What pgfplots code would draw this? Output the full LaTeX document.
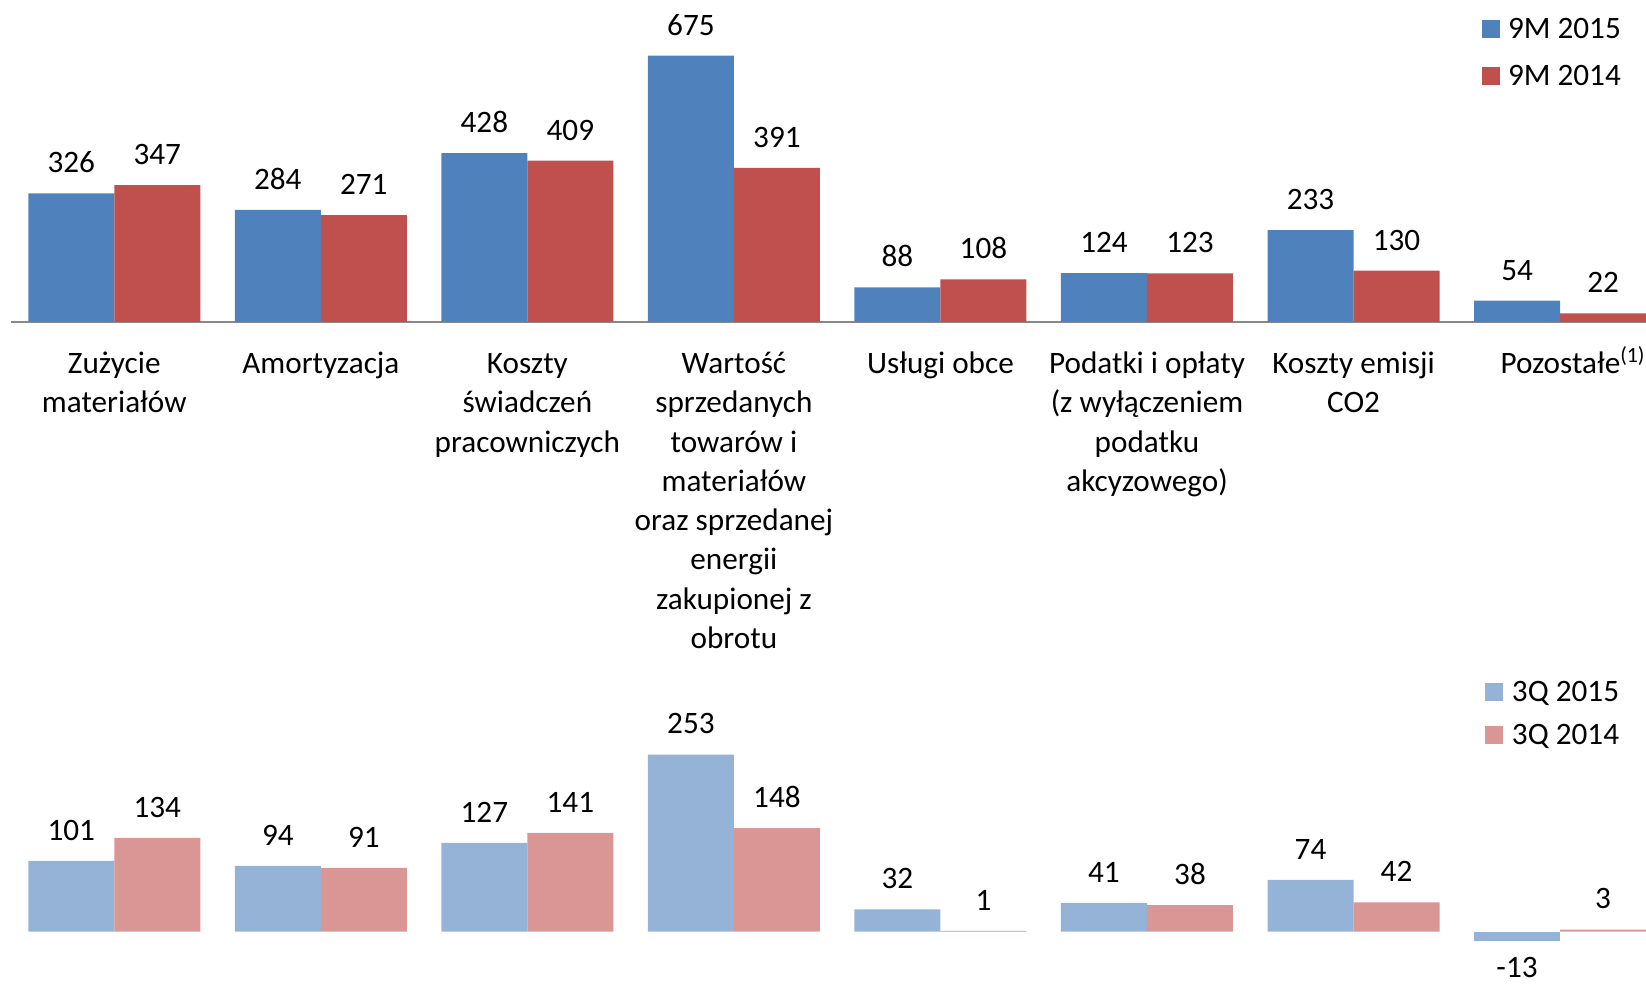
\documentclass[border=0pt]{standalone}
\usepackage{fontspec}
\setmainfont{Carlito}
\usepackage{pgfplots}
\pgfplotsset{compat=1.18}
\definecolor{cA}{HTML}{4F81BD}
\definecolor{cB}{HTML}{C0504D}
\definecolor{cC}{HTML}{95B3D7}
\definecolor{cD}{HTML}{D99694}
\definecolor{axgray}{HTML}{898989}
\newcommand{\fs}{\fontsize{15.6}{19.65}\selectfont}
\begin{document}
\begin{tikzpicture}
\useasboundingbox (0pt,0pt) rectangle (823pt,492pt);
\pgfplotsset{
  mybars/.style={
    ybar, bar width=43pt, scale only axis, width=817.5pt,
    xmin=-0.5, xmax=7.416, clip=false,
    /pgf/number format/assume math mode=true,
    nodes near coords,
    every node near coord/.append style={font=\fs, inner sep=0pt, anchor=south, yshift=10pt},
    legend cell align=left,
    legend image code/.code={\fill[##1] (0pt,-4pt) rectangle (9pt,5pt);},
  }
}
\begin{axis}[mybars, at={(5.5pt,331pt)}, anchor=south west, height=138.075pt, ymin=0, ymax=700,
  axis x line=bottom, axis y line=none,
  x axis line style={-, draw=axgray, line width=1pt},
  xtick={0,1,2,3,4,5,6,7}, major tick length=0pt,
  xticklabels={{\strut Zużycie\\materiałów},{\strut Amortyzacja},{\strut Koszty\\świadczeń\\pracowniczych},{\strut Wartość\\sprzedanych\\towarów i\\materiałów\\oraz sprzedanej\\energii\\zakupionej z\\obrotu},{\strut Usługi obce},{\strut Podatki i opłaty\\(z wyłączeniem\\podatku\\akcyzowego)},{\strut Koszty emisji\\CO2},{\strut\hspace*{13pt}Pozostałe\textsuperscript{(1)}}},
  xticklabel style={font=\fs, align=center, anchor=north, inner sep=0pt, yshift=-11.75pt},
  legend style={draw=none, fill=none, inner sep=0pt, outer sep=0pt, anchor=north west,
    at={(axis description cs:0.8997,1.101)}, row sep=12pt, font=\fs,
    nodes={inner sep=0pt},
    /tikz/every odd column/.append style={column sep=4pt}},
]
\addplot[fill=cA, draw=none, bar shift=-21.5pt] coordinates {(0,326) (1,284) (2,428) (3,675) (4,88) (5,124) (6,233) (7,54)};
\addplot[fill=cB, draw=none, bar shift=21.5pt] coordinates {(0,347) (1,271) (2,409) (3,391) (4,108) (5,123) (6,130) (7,22)};
\legend{9M 2015, 9M 2014}
\end{axis}
\begin{axis}[mybars, at={(5.5pt,19.15pt)}, anchor=south west, height=105pt, ymin=-20, ymax=280,
  hide axis,
  legend style={draw=none, fill=none, inner sep=0pt, outer sep=0pt, anchor=north west,
    at={(axis description cs:0.9015,1.2605)}, row sep=10pt, font=\fs,
    nodes={inner sep=0pt},
    /tikz/every odd column/.append style={column sep=4.5pt}},
]
\addplot[fill=cC, draw=none, bar shift=-21.5pt] coordinates {(0,101) (1,94) (2,127) (3,253) (4,32) (5,41) (6,74)};
\addplot[fill=cD, draw=none, bar shift=21.5pt] coordinates {(0,134) (1,91) (2,141) (3,148) (4,1) (5,38) (6,42) (7,3)};
\addplot[fill=cC, draw=none, bar shift=-21.5pt, forget plot,
  every node near coord/.append style={anchor=north, yshift=-18pt}] coordinates {(7,-13)};
\legend{3Q 2015, 3Q 2014}
\end{axis}
\end{tikzpicture}
\end{document}
